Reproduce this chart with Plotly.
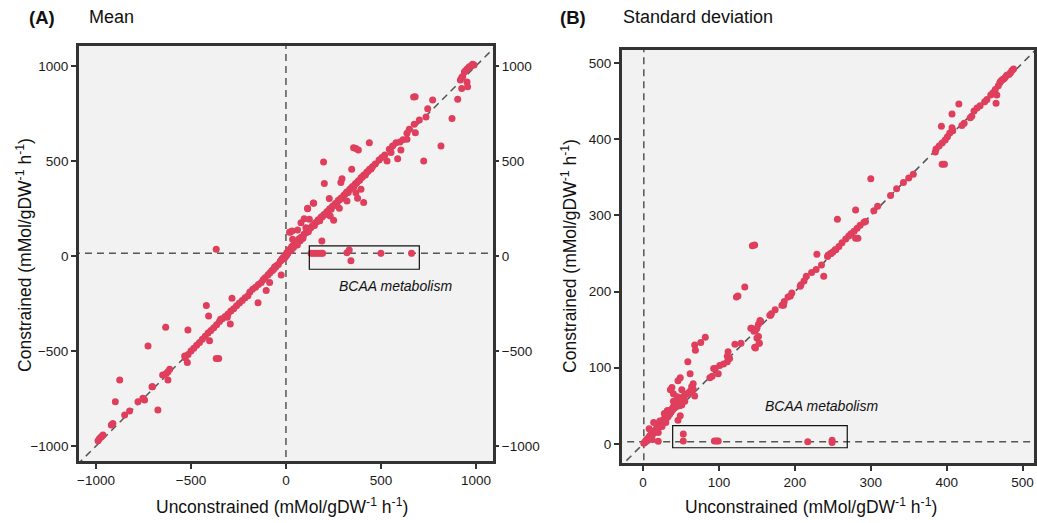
import plotly.graph_objects as go

# ---------------- Panel A: Mean ----------------
mean_top_x = [990, 982, 975, 965, 958, 953, 945, 939, 930, 925, 918, 953, 956, 925]
mean_top_y = [1005, 1009, 1000, 996, 988, 982, 975, 968, 945, 939, 926, 916, 891, 881]

mean_upper_x = [672, 680, 772, 904, 746, 737, 874, 702, 675, 681, 649, 637, 637, 616, 600, 579, 561, 544, 816, 605, 588, 725, 553, 532,
                520, 505, 490, 470, 455, 440, 425, 410, 395, 380, 365, 350, 335, 320, 305, 290, 275, 260, 245, 230, 215, 200, 185, 170,
                155, 140, 125, 110, 95, 80, 65, 50, 35, 20, 5]
mean_upper_y = [837, 838, 821, 825, 775, 732, 723, 716, 693, 649, 667, 646, 614, 612, 600, 596, 579, 561, 579, 558, 512, 500, 544, 500,
                532, 518, 505, 484, 470, 456, 440, 426, 412, 395, 380, 366, 350, 336, 320, 305, 292, 276, 262, 248, 233, 218, 205, 190,
                175, 160, 145, 130, 114, 98, 84, 68, 52, 36, 18]

mean_band_x = [12, 28, 42, 58, 72, 88, 105, 118, 132, 150, 165, 178, 192, 208, 222, 238, 252, 268, 282, 298, 312, 328, 342, 358, 372,
               388, 402, 418, 432, 448]
mean_band_y = [22, 30, 58, 66, 90, 96, 122, 128, 150, 160, 182, 186, 206, 218, 236, 246, 266, 276, 296, 304, 326, 334, 356, 366, 384,
               398, 416, 426, 446, 458]

mean_mid_x = [439, 356, 368, 381, 198, 346, 295, 289, 202, 395, 377, 409, 368, 321, 281, 228, 146, 114, 96, 79, 61, 23, 251, 233, 189,
              19, 32, 114, 144, 35, 105, 123]
mean_mid_y = [596, 570, 565, 558, 495, 456, 407, 386, 381, 351, 304, 281, 333, 289, 251, 302, 277, 249, 196, 175, 137, 126, 188, 211, 79,
              125, 131, 251, 279, 88, 149, 193]

mean_origin_x = [-5, 3, 8, -12, -30, 12, -2, 25, 40, 55, 60, 75, -50, -60, -70, 85, 0, -5, -10, -15, -20, -25, 10, 15, 30, 45, 70, 90]
mean_origin_y = [-8, 2, 12, -15, -28, 18, 5, 30, 45, 62, 58, 80, -52, -58, -75, 90, 5, 0, -5, -10, -15, -22, 15, 30, 48, 70, 90, 95]

mean_lower_x = [-367, -25, -86, -104, -147, -40, -55, -65, -75, -85, -95, -110, -120, -130, -145, -160, -175, -190, -200, -215, -230,
                -245, -260, -275, -290, -305, -320, -335, -350, -365, -380, -395, -410, -425, -440, -455, -470, -485, -500, -515, -530]
mean_lower_y = [35, -100, -140, -182, -246, -45, -60, -70, -78, -90, -100, -115, -125, -140, -150, -165, -175, -190, -210, -220, -235,
                -248, -262, -278, -290, -305, -318, -330, -345, -362, -378, -392, -405, -422, -438, -455, -470, -485, -500, -518, -535]

mean_tail_x = [-419, -284, -309, -344, -293, -407, -516, -402, -633, -726, -367, -354, -519, -533, -612, -621, -630, -621, -705, -674,
               -875, -898, -744, -753, -779, -823, -849, -919, -911, -963, -972, -981, -989, -649, -702]
mean_tail_y = [-261, -223, -323, -333, -358, -316, -389, -446, -375, -474, -539, -539, -561, -526, -596, -609, -618, -653, -688, -811,
               -653, -767, -758, -749, -767, -816, -837, -889, -881, -942, -951, -960, -972, -626, -688]

mean_bcaa_x = [132, 145, 158, 170, 183, 193, 321, 333, 342, 500, 661]
mean_bcaa_y = [14, 14, 14, 14, 14, 14, 17, 32, -25, 14, 14]

mean_ticks = [-1000, -500, 0, 500, 1000]

# ---------------- Panel B: Standard deviation ----------------
sd_top_x = [488, 486, 484, 482, 479, 477, 475, 473, 471, 470, 468, 464, 461, 458, 466, 465, 453, 450, 444, 440,
            436, 433, 431, 423, 420, 416, 407, 393, 407, 408, 404, 401, 398, 394, 390, 386, 385, 394, 397]
sd_top_y = [492, 490, 487, 485, 484, 481, 479, 478, 476, 474, 470, 465, 461, 458, 458, 447, 452, 449, 444, 441,
            437, 430, 428, 421, 418, 446, 433, 417, 415, 411, 408, 403, 399, 395, 391, 387, 383, 367, 367]

sd_upper_x = [356, 350, 343, 334, 326, 309, 304, 300, 280, 256, 293, 291, 286, 282, 278, 274, 271, 267, 262, 258, 254, 247, 243, 280, 283]
sd_upper_y = [354, 349, 343, 335, 326, 312, 306, 348, 307, 295, 292, 291, 287, 283, 279, 276, 273, 269, 264, 259, 255, 250, 246, 270, 270]

sd_mid_x = [229, 244, 250, 253, 248, 235, 228, 222, 215, 212, 238, 208, 207, 196, 194, 191, 186, 185, 183, 174,
            169, 168, 167, 144, 147, 134, 125, 123, 154, 152, 143, 148, 152, 153, 147, 129, 121, 142, 146, 150, 155, 150, 148, 153]
sd_mid_y = [249, 248, 252, 255, 250, 235, 229, 225, 220, 214, 220, 209, 207, 198, 194, 193, 187, 182, 182, 176,
            171, 169, 169, 260, 261, 206, 194, 193, 162, 157, 152, 149, 141, 132, 127, 132, 131, 152, 148, 152, 161, 139, 126, 132]

sd_low_x = [112, 111, 114, 111, 106, 101, 95, 93, 99, 91, 88, 82, 76, 68, 69, 59, 62, 49, 46, 38, 36, 40, 51, 53, 62, 64, 66, 68, 55, 51, 49, 46]
sd_low_y = [121, 115, 112, 108, 105, 103, 99, 99, 92, 89, 87, 140, 133, 130, 123, 108, 92, 87, 83, 74, 71, 66, 71, 62, 69, 75, 79, 63, 56, 51, 37, 31]

sd_dense_x = [1, 2, 3, 4, 5, 6, 7, 8, 9, 10, 11, 12, 13, 14, 15, 16, 17, 18, 19, 20, 21, 22, 23, 24, 25, 26, 27, 28, 29, 30,
              31, 32, 33, 34, 35, 36, 37, 38, 39, 40, 41, 42, 43, 44, 45, 46, 48, 50, 52, 54, 56, 58, 60, 62, 64, 66,
              8, 14, 22, 28, 32, 40, 45, 48, 52, 30, 25, 12, 20, 20]
sd_dense_y = [1, 2, 3, 5, 4, 7, 6, 9, 11, 10, 13, 12, 15, 14, 17, 18, 16, 21, 20, 23, 22, 26, 24, 28, 27, 31, 29, 33, 32, 36,
              34, 38, 36, 41, 39, 44, 42, 46, 45, 49, 47, 52, 50, 55, 53, 57, 58, 60, 61, 63, 65, 66, 67, 68, 70, 72,
              20, 28, 30, 40, 44, 56, 62, 50, 55, 28, 23, 6, 15, 3.5]

sd_bcaa_x = [53, 53, 94, 97, 99, 217, 249, 249]
sd_bcaa_y = [13, 4, 4, 4, 4, 3, 5, 2]

sd_ticks = [0, 100, 200, 300, 400, 500]

# ---------------- styling constants ----------------
W, H = 1037, 523
DOT = "#DF3F5C"
FRAME = "#333333"
DASH = "#555555"
FONT = "Liberation Sans, Arial, sans-serif"

mean_xr = [-1090, 1090]
mean_yr = [-1079, 1105]
sd_xr = [-28, 515]
sd_yr = [-25, 517]

def px_x(p):
    return p / W

def px_y(p):
    return 1 - p / H

mean_x = mean_top_x + mean_upper_x + mean_band_x + mean_mid_x + mean_origin_x + mean_lower_x + mean_tail_x + mean_bcaa_x
mean_y = mean_top_y + mean_upper_y + mean_band_y + mean_mid_y + mean_origin_y + mean_lower_y + mean_tail_y + mean_bcaa_y
sd_x = sd_top_x + sd_upper_x + sd_mid_x + sd_low_x + sd_dense_x + sd_bcaa_x
sd_y = sd_top_y + sd_upper_y + sd_mid_y + sd_low_y + sd_dense_y + sd_bcaa_y

fig = go.Figure()

def dashed(x, y, xa, ya):
    fig.add_trace(go.Scatter(x=x, y=y, xaxis=xa, yaxis=ya, mode="lines",
                             line=dict(color=DASH, width=1.5, dash="7px,5px"),
                             hoverinfo="skip", showlegend=False))

# Panel A reference lines
dashed([0, 0], [-1500, 1500], "x", "y")
dashed([-1500, 1500], [14, 14], "x", "y")
dashed([-1500, 1500], [-1500, 1500], "x", "y")
# Panel B reference lines
dashed([1, 1], [-100, 700], "x2", "y2")
dashed([-100, 700], [3, 3], "x2", "y2")
dashed([-100, 700], [-100, 700], "x2", "y2")

fig.add_trace(go.Scatter(x=mean_x, y=mean_y, xaxis="x", yaxis="y", mode="markers",
                         marker=dict(color=DOT, size=7, line=dict(width=0)), showlegend=False))
fig.add_trace(go.Scatter(x=sd_x, y=sd_y, xaxis="x2", yaxis="y2", mode="markers",
                         marker=dict(color=DOT, size=7, line=dict(width=0)), showlegend=False))
# invisible trace for right-hand axis of panel A
fig.add_trace(go.Scatter(x=[0], y=[0], xaxis="x", yaxis="y3", mode="markers",
                         marker=dict(opacity=0), hoverinfo="skip", showlegend=False))

axis_common = dict(showgrid=False, zeroline=False, ticks="outside", ticklen=5, tickwidth=2,
                   tickcolor=FRAME, showline=True, linecolor=FRAME, linewidth=2.5,
                   tickfont=dict(family=FONT, size=13.5, color="#1a1a1a"))

dA_x = [px_x(77), px_x(492)]
dA_y = [px_y(461), px_y(46)]
dB_x = [px_x(621), px_x(1034)]
dB_y = [px_y(463), px_y(50)]

fig.update_layout(
    width=W, height=H, autosize=False,
    margin=dict(l=0, r=0, t=0, b=0),
    paper_bgcolor="white", plot_bgcolor="#F2F2F2",
    font=dict(family=FONT, color="#1a1a1a"),
    xaxis=dict(axis_common, domain=dA_x, range=mean_xr, tickvals=mean_ticks, anchor="y", mirror=True),
    yaxis=dict(axis_common, domain=dA_y, range=mean_yr, tickvals=mean_ticks, anchor="x", mirror=True),
    yaxis3=dict(axis_common, range=mean_yr, tickvals=mean_ticks, overlaying="y", side="right", anchor="x",
                showline=False),
    xaxis2=dict(axis_common, domain=dB_x, range=sd_xr, tickvals=sd_ticks, anchor="y2", mirror=True),
    yaxis2=dict(axis_common, domain=dB_y, range=sd_yr, tickvals=sd_ticks, anchor="x2", mirror=True),
    showlegend=False,
)

# BCAA boxes
fig.add_shape(type="rect", xref="x", yref="y", x0=123, x1=702, y0=-70, y1=53,
              line=dict(color="#111111", width=1.2), fillcolor="rgba(0,0,0,0)")
fig.add_shape(type="rect", xref="x2", yref="y2", x0=39, x1=269, y0=-5, y1=24,
              line=dict(color="#111111", width=1.2), fillcolor="rgba(0,0,0,0)")

ann = []
ann.append(dict(text="<i>BCAA metabolism</i>", xref="x", yref="y", x=574, y=-158, showarrow=False,
                font=dict(family=FONT, size=14, color="#111111")))
ann.append(dict(text="<i>BCAA metabolism</i>", xref="x2", yref="y2", x=235, y=50, showarrow=False,
                font=dict(family=FONT, size=14, color="#111111")))
# panel titles
ann.append(dict(text="<b>(A)</b>", xref="paper", yref="paper", x=px_x(25), y=px_y(17), xanchor="left",
                yanchor="middle", showarrow=False, font=dict(family=FONT, size=18.5, color="#111111")))
ann.append(dict(text="Mean", xref="paper", yref="paper", x=px_x(85), y=px_y(17), xanchor="left",
                yanchor="middle", showarrow=False, font=dict(family=FONT, size=18, color="#111111")))
ann.append(dict(text="<b>(B)</b>", xref="paper", yref="paper", x=px_x(557), y=px_y(17), xanchor="left",
                yanchor="middle", showarrow=False, font=dict(family=FONT, size=18.5, color="#111111")))
ann.append(dict(text="Standard deviation", xref="paper", yref="paper", x=px_x(620), y=px_y(17), xanchor="left",
                yanchor="middle", showarrow=False, font=dict(family=FONT, size=18, color="#111111")))
# axis titles
xt = "Unconstrained (mMol/gDW<sup>-1</sup> h<sup>-1</sup>)"
yt = "Constrained (mMol/gDW<sup>-1</sup> h<sup>-1</sup>)"
ann.append(dict(text=xt, xref="paper", yref="paper", x=px_x(281), y=px_y(506), xanchor="center",
                yanchor="middle", showarrow=False, font=dict(family=FONT, size=17.5, color="#111111")))
ann.append(dict(text=xt, xref="paper", yref="paper", x=px_x(811), y=px_y(506), xanchor="center",
                yanchor="middle", showarrow=False, font=dict(family=FONT, size=17.5, color="#111111")))
ann.append(dict(text=yt, xref="paper", yref="paper", x=px_x(22), y=px_y(255), xanchor="center",
                yanchor="middle", textangle=-90, showarrow=False, font=dict(family=FONT, size=17.5, color="#111111")))
ann.append(dict(text=yt, xref="paper", yref="paper", x=px_x(568), y=px_y(256), xanchor="center",
                yanchor="middle", textangle=-90, showarrow=False, font=dict(family=FONT, size=17.5, color="#111111")))
fig.update_layout(annotations=ann)

# remove the default page margin so the figure fills the 1037x523 window exactly
fig.write_html("out.html",
               config={"displayModeBar": False},
               post_script="document.body.style.margin='0';document.body.style.overflow='hidden';")
